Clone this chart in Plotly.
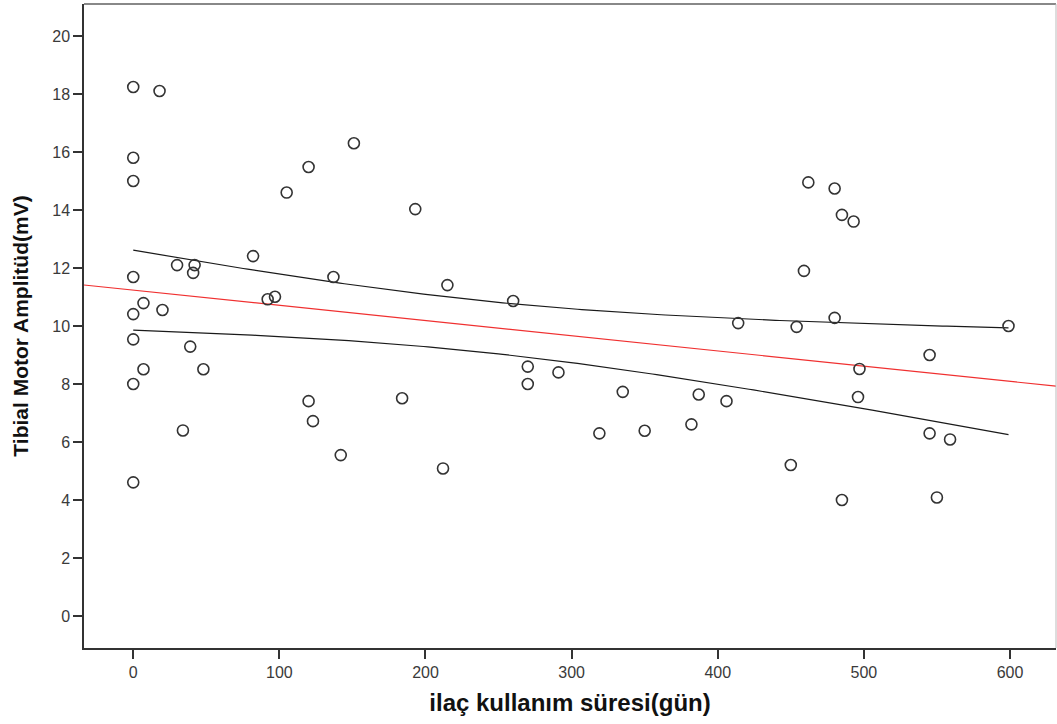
import numpy as np
import plotly.graph_objects as go

# ilaç kullanım süresi (gün)
days = [0, 18, 0, 0, 151, 120, 105, 193, 462, 480, 485, 493,
        82, 30, 42, 41, 0, 137, 215, 459,
        0, 7, 20, 92, 97, 260, 414, 454, 480, 599,
        0, 39, 7, 48, 0, 270, 291, 270, 184, 335, 387, 406,
        120, 123, 34, 319, 350, 382, 497, 496, 545, 545, 559,
        142, 212, 450, 485, 550, 0]
# Tibial Motor Amplitüd (mV)
amplitude = [18.24, 18.1, 15.8, 15.0, 16.3, 15.48, 14.6, 14.03, 14.95, 14.74, 13.83, 13.6,
             12.41, 12.1, 12.1, 11.83, 11.69, 11.69, 11.41, 11.9,
             10.41, 10.79, 10.55, 10.92, 11.01, 10.86, 10.1, 9.97, 10.28, 10.0,
             9.54, 9.29, 8.51, 8.51, 8.0, 8.6, 8.4, 8.0, 7.51, 7.73, 7.64, 7.41,
             7.41, 6.72, 6.4, 6.3, 6.39, 6.61, 8.52, 7.55, 9.0, 6.3, 6.09,
             5.55, 5.09, 5.21, 4.0, 4.09, 4.61]

x_ticks = [0, 100, 200, 300, 400, 500, 600]
y_ticks = [0, 2, 4, 6, 8, 10, 12, 14, 16, 18, 20]
x_range = [-33.7, 631.5]
y_range = [-1.1, 21.1]

x = np.array(days, dtype=float)
y = np.array(amplitude, dtype=float)
n = len(x)
slope, intercept = np.polyfit(x, y, 1)
resid = y - (intercept + slope * x)
s = np.sqrt(np.sum(resid ** 2) / (n - 2))
xbar = x.mean()
sxx = np.sum((x - xbar) ** 2)
t_crit = 2.002  # t(0.975, df=57)

xf = np.linspace(x.min(), x.max(), 200)
yf = intercept + slope * xf
half = t_crit * s * np.sqrt(1 / n + (xf - xbar) ** 2 / sxx)

xr = np.array(x_range)
yr = intercept + slope * xr

fig = go.Figure()
fig.add_trace(go.Scatter(x=xf, y=yf + half, mode="lines",
                         line=dict(color="#1a1a1a", width=1.2), hoverinfo="skip"))
fig.add_trace(go.Scatter(x=xf, y=yf - half, mode="lines",
                         line=dict(color="#1a1a1a", width=1.2), hoverinfo="skip"))
fig.add_trace(go.Scatter(x=xr, y=yr, mode="lines",
                         line=dict(color="#f03030", width=1.2), hoverinfo="skip"))
fig.add_trace(go.Scatter(x=days, y=amplitude, mode="markers",
                         marker=dict(symbol="circle-open", size=11,
                                     line=dict(color="#333333", width=1.6),
                                     color="#333333")))

axis_font = dict(family="Liberation Sans, Arial, sans-serif", size=16, color="#3a3a3a")
xtitle_font = dict(family="Liberation Sans, Arial, sans-serif", size=24, color="#111111")
ytitle_font = dict(family="Liberation Sans, Arial, sans-serif", size=21, color="#111111")

fig.update_layout(
    width=1057, height=724,
    margin=dict(l=84, r=1, t=4, b=76),
    paper_bgcolor="white", plot_bgcolor="white",
    showlegend=False,
    xaxis=dict(range=x_range, tickvals=x_ticks, ticks="outside", ticklen=9,
               tickwidth=1.5, tickcolor="#333333", showgrid=False, zeroline=False,
               showline=True, linecolor="#333333", linewidth=1.5,
               tickfont=axis_font,
               title=dict(text="<b>ilaç kullanım süresi(gün)</b>", font=xtitle_font, standoff=14)),
    yaxis=dict(range=y_range, tickvals=y_ticks, ticks="outside", ticklen=9,
               tickwidth=1.5, tickcolor="#333333", showgrid=False, zeroline=False,
               showline=True, linecolor="#333333", linewidth=1.5,
               tickfont=axis_font,
               title=dict(text="<b>Tibial Motor Amplitüd(mV)</b>", font=ytitle_font, standoff=18)),
    shapes=[
        dict(type="line", xref="paper", yref="paper", x0=0, x1=1, y0=1, y1=1,
             line=dict(color="#888888", width=2)),
        dict(type="line", xref="paper", yref="paper", x0=1, x1=1, y0=0, y1=1,
             line=dict(color="#bbbbbb", width=1)),
    ],
)

fig.write_html("out.html", config={"displayModeBar": False},
               post_script="document.body.style.margin='0px';")
